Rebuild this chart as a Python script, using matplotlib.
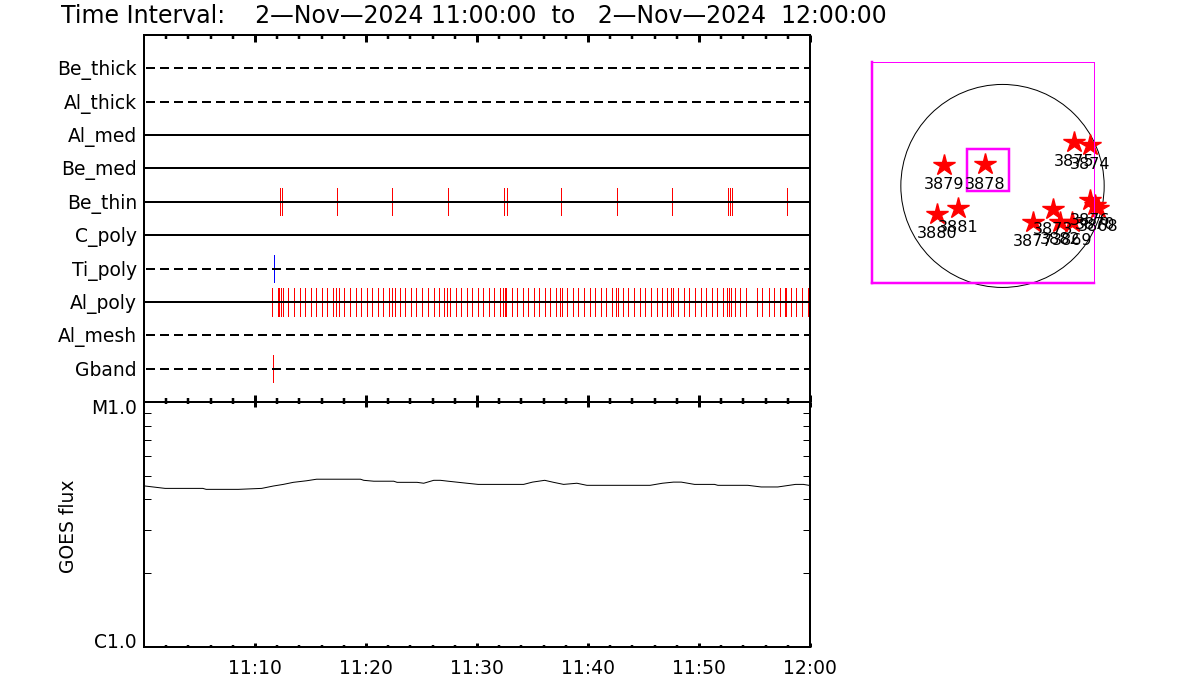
import matplotlib
matplotlib.use("Agg")
import matplotlib.pyplot as plt
from matplotlib.patches import Circle, Rectangle

W, H = 1200, 700
PX = 72 / 100  # one pixel in points

title = "Time Interval:    2\u2014Nov\u20142024 11:00:00  to   2\u2014Nov\u20142024  12:00:00"

# detector rows, top to bottom, True means drawn solid
detectors = ["Be_thick", "Al_thick", "Al_med", "Be_med", "Be_thin",
             "C_poly", "Ti_poly", "Al_poly", "Al_mesh", "Gband"]
solid = [False, False, True, True, True, True, False, True, False, False]

# event times, minutes after 11:00
be_thin_events = [12.28, 12.46, 17.41, 22.37, 27.41, 32.46, 32.73, 37.59, 42.64,
                  47.59, 52.64, 52.82, 53.00, 57.95]
ti_poly_events = [11.74]
gband_events = [11.65]
al_poly_events = [11.56, 12.10, 12.19, 12.37, 12.52, 13.00, 13.54, 14.08, 14.53,
                  15.08, 15.53, 16.07, 16.52, 17.06, 17.33, 17.60, 18.05, 18.59,
                  19.13, 19.58, 20.12, 20.57, 21.11, 21.56, 22.10, 22.37, 22.64,
                  23.09, 23.54, 24.08, 24.53, 25.08, 25.62, 26.16, 26.61, 27.06,
                  27.33, 27.60, 28.14, 28.59, 29.13, 29.58, 30.12, 30.57, 31.11,
                  31.56, 32.10, 32.37, 32.55, 32.64, 33.18, 33.63, 34.17, 34.62,
                  35.17, 35.62, 36.16, 36.61, 37.15, 37.51, 37.69, 38.14, 38.68,
                  39.13, 39.67, 40.21, 40.66, 41.20, 41.65, 42.19, 42.55, 42.73,
                  43.18, 43.63, 44.17, 44.71, 45.17, 45.71, 46.25, 46.70, 47.15,
                  47.51, 47.69, 48.14, 48.68, 49.13, 49.67, 50.21, 50.66, 51.20,
                  51.65, 52.19, 52.55, 52.73, 52.91, 53.27, 53.72, 54.26, 55.26,
                  55.71, 56.34, 56.79, 57.33, 57.78, 57.87, 58.32, 58.77, 59.31,
                  59.85]

# GOES flux
goes_t = [0.1, 1.9, 5.3, 5.6, 8.5, 10.6, 11.65, 12.55, 13.45, 14.65, 15.55, 19.5,
          19.8, 20.7, 22.5, 22.8, 24.6, 25.2, 26.1, 26.7, 27.4, 29.1, 30.1, 34.2,
          35.0, 36.1, 36.9, 37.8, 39.0, 39.9, 45.6, 46.7, 47.7, 48.4, 49.6, 51.4,
          51.7, 54.4, 55.6, 57.1, 58.7, 59.4, 59.9]
goes_flux = [4.54e-6, 4.44e-6, 4.44e-6, 4.40e-6, 4.40e-6, 4.44e-6, 4.54e-6, 4.61e-6,
             4.70e-6, 4.77e-6, 4.84e-6, 4.84e-6, 4.79e-6, 4.75e-6, 4.75e-6, 4.70e-6,
             4.70e-6, 4.66e-6, 4.79e-6, 4.79e-6, 4.75e-6, 4.66e-6, 4.61e-6, 4.61e-6,
             4.71e-6, 4.79e-6, 4.70e-6, 4.61e-6, 4.66e-6, 4.57e-6, 4.57e-6, 4.66e-6,
             4.71e-6, 4.71e-6, 4.61e-6, 4.61e-6, 4.57e-6, 4.57e-6, 4.50e-6, 4.50e-6,
             4.61e-6, 4.61e-6, 4.57e-6]

time_ticks = [10, 20, 30, 40, 50, 60]
time_labels = ["11:10", "11:20", "11:30", "11:40", "11:50", "12:00"]

# active regions on the disc, arcsec
ar_names = ["3879", "3878", "3880", "3881", "3875", "3874", "3876", "3870", "3868",
            "3873", "3877", "3882", "3869"]
ar_x = [-549, -165, -618, -420, 678, 828, 825, 873, 900, 476, 288, 543, 653]
ar_y = [195, 205, -266, -207, 416, 391, -134, -181, -209, -222, -344, -338, -344]
label_dy = [19, 20, 19, 20, 20, 20, 20, 19, 18, 20, 19, 18, 18]


def px_box(x0, y0, x1, y1):
    return [x0 / W, 1 - y1 / H, (x1 - x0) / W, (y1 - y0) / H]


def label(x, y, s, size=13.5, **kw):
    return plt.figtext(x / W, 1 - (y + 1) / H, s, fontsize=size, va="center", **kw)


fig = plt.figure(figsize=(12, 7), dpi=100)

# detector panel
ax = fig.add_axes(px_box(144, 35, 810, 402))
ax.set_xlim(0, 60)
ax.set_ylim(len(detectors) + 1, 0)
for i, (name, is_solid) in enumerate(zip(detectors, solid)):
    row = i + 1
    if is_solid:
        ax.plot([0, 60], [row, row], color="k", lw=2 * PX, zorder=3)
    else:
        ax.plot([0.2, 59.9], [row, row], color="k", lw=2 * PX, zorder=3,
                linestyle=(0, (4.5, 2.5)), dash_capstyle="butt")
    label(137, 35 + row * 33.36 + 1, name, ha="right")

ax.vlines(be_thin_events, 5 - 0.41, 5 + 0.41, color="#ff0000", lw=PX, zorder=2, antialiased=False)
ax.vlines(ti_poly_events, 7 - 0.41, 7 + 0.41, color="#0000ff", lw=PX, zorder=2, antialiased=False)
ax.vlines(al_poly_events, 8 - 0.41, 8 + 0.41, color="#ff0000", lw=PX, zorder=2, antialiased=False)
ax.vlines(gband_events, 10 - 0.41, 10 + 0.41, color="#ff0000", lw=PX, zorder=2, antialiased=False)

ax.set_yticks([])
ax.set_xticks(time_ticks)
ax.set_xticks(range(2, 60, 2), minor=True)
ax.tick_params(axis="x", which="major", direction="in", top=True, length=7 * PX,
               width=3 * PX, labelbottom=False)
ax.tick_params(axis="x", which="minor", direction="in", top=True, length=4 * PX,
               width=2.5 * PX)

# GOES panel
ax2 = fig.add_axes(px_box(144, 402, 810, 647))
ax2.plot(goes_t, goes_flux, color="k", lw=PX)
ax2.set_xlim(0, 60)
ax2.set_yscale("log")
ax2.set_ylim(1e-6, 1e-5)
ax2.set_xticks(time_ticks)
ax2.set_xticks(range(2, 60, 2), minor=True)
ax2.set_xticklabels([])
ax2.tick_params(axis="x", which="major", direction="in", top=True, length=4.5 * PX,
                width=3 * PX)
ax2.tick_params(axis="x", which="minor", direction="in", top=True, length=2.5 * PX,
                width=2.5 * PX)
ax2.set_yticks([])
ax2.set_yticks([k * 1e-6 for k in range(2, 10)], minor=True)
ax2.set_yticklabels([], minor=True)
ax2.tick_params(axis="y", which="minor", direction="in", right=True, length=7 * PX,
                width=PX)

for a in (ax, ax2):
    for sp in a.spines.values():
        sp.set_linewidth(2 * PX)

for t, s in zip(time_ticks, time_labels):
    label(144 + t * 11.1, 667, s, ha="center")
label(137, 408, "M1.0", ha="right")
label(137, 641, "C1.0", ha="right")
label(68, 525, "GOES flux", rotation=90, ha="center")
label(61, 15, title, size=17, ha="left")

# solar disc panel, 0.106 px per arcsec
ax3 = fig.add_axes(px_box(872, 62, 1094, 283))
ax3.set_xlim(-1231, 863)
ax3.set_ylim(-917, 1171)
ax3.set_xticks([])
ax3.set_yticks([])
for side, sp in ax3.spines.items():
    sp.set_color("#ff00ff")
    sp.set_linewidth(2.5 * PX if side in ("left", "bottom") else PX)
ax3.add_patch(Circle((0, 0), 959, fill=False, ec="k", lw=PX, clip_on=False))
ax3.add_patch(Rectangle((-338, -46), 399, 393, fill=False, ec="#ff00ff", lw=2.5 * PX,
                        clip_on=False))
ax3.plot(ar_x, ar_y, linestyle="none", marker="*", ms=16, mfc="#ff0000", mec="#ff0000",
         clip_on=False)
for x, y, s, dy in zip(ar_x, ar_y, ar_names, label_dy):
    ax3.annotate(s, (x, y), xytext=(0, -dy * PX), textcoords="offset points", ha="center",
                 va="center", fontsize=11.5, annotation_clip=False)

fig.savefig("out.png", dpi=100)
